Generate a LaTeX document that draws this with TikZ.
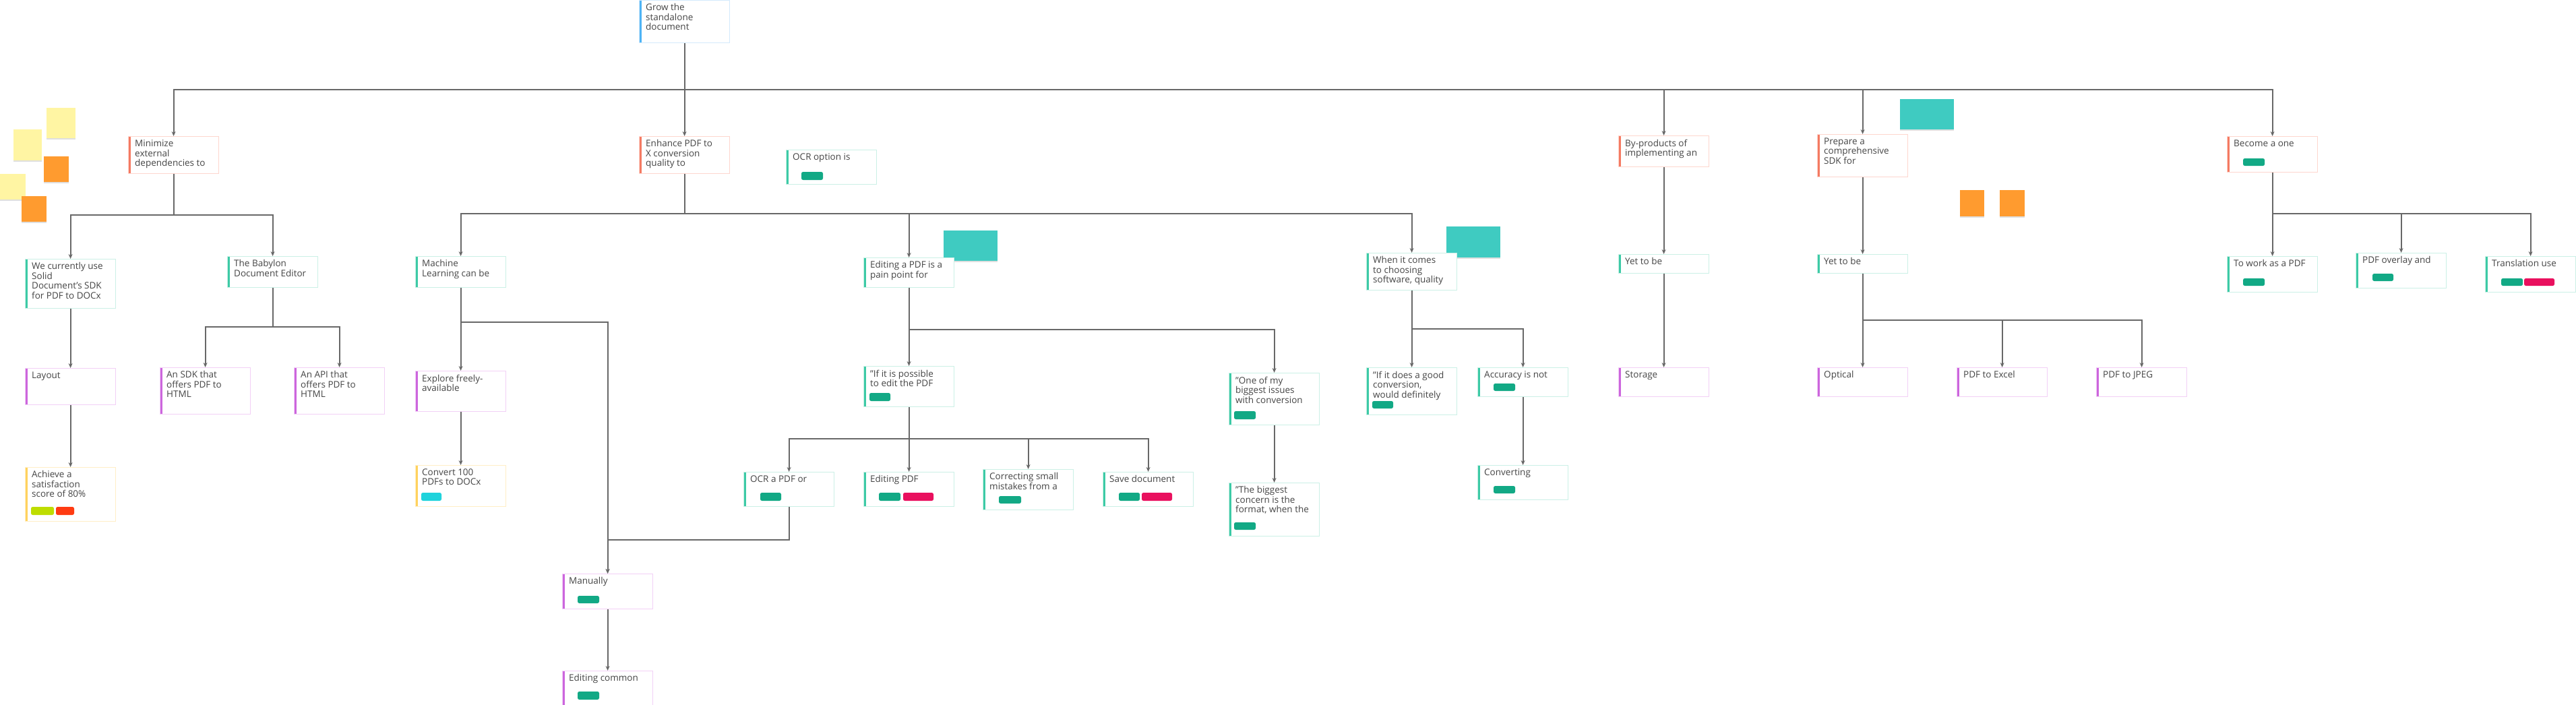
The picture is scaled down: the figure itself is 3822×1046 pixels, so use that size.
\documentclass[tikz,border=0pt]{standalone}
\usepackage{fontspec}
\setmainfont{Open Sans}
\usetikzlibrary{arrows.meta,shadows}
\definecolor{txt}{HTML}{454545}
\definecolor{cblue}{HTML}{4DB3F5}
\definecolor{cblueL}{HTML}{D3EAFC}
\definecolor{csal}{HTML}{F47A62}
\definecolor{csalL}{HTML}{FDD6CE}
\definecolor{cteal}{HTML}{3DCAA6}
\definecolor{ctealL}{HTML}{CBF0E6}
\definecolor{cpur}{HTML}{CC66DD}
\definecolor{cpurL}{HTML}{F2D0F6}
\definecolor{cyel}{HTML}{FFD25E}
\definecolor{cyelL}{HTML}{FFEEC6}
\definecolor{tgreen}{HTML}{12A985}
\definecolor{tpink}{HTML}{E9105E}
\definecolor{tlime}{HTML}{BEDD00}
\definecolor{tred}{HTML}{FF3B12}
\definecolor{tcyan}{HTML}{1FD3DC}
\definecolor{lin}{HTML}{686868}
\definecolor{stY}{HTML}{FFF5A3}
\definecolor{stO}{HTML}{FF9B2F}
\definecolor{stT}{HTML}{3FCBC1}
\tikzset{
  cardbox/.style 2 args={rectangle, draw=#2, line width=1.2pt, fill=white, inner sep=0pt,
    anchor=north west, minimum width=134pt,
    path picture={\fill[#1] (path picture bounding box.north west) rectangle
      ([xshift=3.5pt]path picture bounding box.south west);}},
  cardtxt/.style={anchor=north west, inner sep=0pt, align=left,
    font=\fontsize{13.5}{14.5}\selectfont, text=txt},
  conn/.style={draw=lin, line width=2pt},
  arr/.style={conn, -{Stealth[length=7pt,width=6pt]}},
  sticky/.style={rectangle, fill=#1, inner sep=0pt, anchor=north west,
    drop shadow={shadow xshift=0pt, shadow yshift=-2pt, opacity=0.25}},
}
\newcommand\card[7]{%
  \node[cardbox={#2}{#3}, minimum height=#6pt] (#1) at (#4,#5) {};
  \node[cardtxt] (#1-t) at ([xshift=10pt,yshift=-5.5pt]#1.north west) {#7};}
\newcommand\tg[5]{\fill[#1, rounded corners=2.5pt] (#2,#3) rectangle (#4,#5);}
\newcommand\branch[3]{\draw[arr] (#1.south) |- (#3 -| #2.north) -- (#2.north);}
\begin{document}
\begin{tikzpicture}[x=1pt,y=-1pt]
\fill[white] (0,0) rectangle (3822,1046);
\useasboundingbox (0,0) rectangle (3822,1046);

% sticky notes
\node[sticky=stY, minimum width=43pt, minimum height=45pt] (sy1) at (69,160) {};
\node[sticky=stY, minimum width=42pt, minimum height=46pt] (sy2) at (20,192) {};
\node[sticky=stO, minimum width=37pt, minimum height=38pt] (so1) at (65,232) {};
\node[sticky=stY, minimum width=38pt, minimum height=38pt] (sy3) at (0,258) {};
\node[sticky=stO, minimum width=37pt, minimum height=38pt] (so2) at (32,291) {};
\node[sticky=stT, minimum width=80pt, minimum height=45pt] (st1) at (1400,342) {};
\node[sticky=stT, minimum width=80pt, minimum height=46pt] (st2) at (2146,336) {};
\node[sticky=stT, minimum width=80pt, minimum height=45pt] (st3) at (2819,147) {};
\node[sticky=stO, minimum width=36pt, minimum height=39pt] (so3) at (2908,282) {};
\node[sticky=stO, minimum width=37pt, minimum height=39pt] (so4) at (2967,282) {};

% cards
\card{root}{cblue}{cblueL}{948}{0}{63}{Grow the\\standalone\\document}
\card{minimize}{csal}{csalL}{190}{202}{55}{Minimize\\external\\dependencies to}
\card{enhance}{csal}{csalL}{948}{202}{55}{Enhance PDF to\\X conversion\\quality to}
\card{ocropt}{cteal}{ctealL}{1166}{222}{51}{OCR option is}
\card{byprod}{csal}{csalL}{2401}{201}{46}{By-products of\\implementing an}
\card{prepare}{csal}{csalL}{2696}{199}{63}{Prepare a\\comprehensive\\SDK for}
\card{become}{csal}{csalL}{3304}{202}{53}{Become a one}

\card{wecur}{cteal}{ctealL}{37}{384}{73}{We currently use\\Solid\\Document's SDK\\for PDF to DOCx}
\card{babylon}{cteal}{ctealL}{337}{380}{46}{The Babylon\\Document Editor}
\card{layout}{cpur}{cpurL}{37}{546}{54}{Layout}
\card{achieve}{cyel}{cyelL}{37}{693}{80}{Achieve a\\satisfaction\\score of 80\%}
\card{sdkhtml}{cpur}{cpurL}{237}{545}{69}{An SDK that\\offers PDF to\\HTML}
\card{apihtml}{cpur}{cpurL}{436}{545}{69}{An API that\\offers PDF to\\HTML}

\card{machine}{cteal}{ctealL}{616}{380}{46}{Machine\\Learning can be}
\card{explore}{cpur}{cpurL}{616}{550}{60}{Explore freely-\\available}
\card{convert}{cyel}{cyelL}{616}{690}{61}{Convert 100\\PDFs to DOCx}
\card{manually}{cpur}{cpurL}{834}{851}{52}{Manually}
\card{editcommon}{cpur}{cpurL}{834}{995}{51}{Editing common}

\card{editpain}{cteal}{ctealL}{1281}{382}{44}{Editing a PDF is a\\pain point for}
\card{ifpossible}{cteal}{ctealL}{1281}{543}{60}{"If it is possible\\to edit the PDF}
\card{ocrpdf}{cteal}{ctealL}{1103}{700}{51}{OCR a PDF or}
\card{editingpdf}{cteal}{ctealL}{1281}{700}{51}{Editing PDF}
\card{correcting}{cteal}{ctealL}{1458}{696}{60}{Correcting small\\mistakes from a}
\card{save}{cteal}{ctealL}{1636}{700}{51}{Save document}
\card{oneof}{cteal}{ctealL}{1823}{553}{77}{"One of my\\biggest issues\\with conversion}
\card{biggest}{cteal}{ctealL}{1823}{716}{79}{"The biggest\\concern is the\\format, when the}

\card{whenit}{cteal}{ctealL}{2027}{375}{55}{When it comes\\to choosing\\software, quality}
\card{ifdoes}{cteal}{ctealL}{2027}{545}{70}{"If it does a good\\conversion,\\would definitely}
\card{accuracy}{cteal}{ctealL}{2192}{545}{43}{Accuracy is not}
\card{converting}{cteal}{ctealL}{2192}{690}{51}{Converting}

\card{yet1}{cteal}{ctealL}{2401}{377}{28}{Yet to be}
\card{storage}{cpur}{cpurL}{2401}{545}{43}{Storage}
\card{yet2}{cteal}{ctealL}{2696}{377}{28}{Yet to be}
\card{optical}{cpur}{cpurL}{2696}{545}{43}{Optical}
\card{excel}{cpur}{cpurL}{2903}{545}{43}{PDF to Excel}
\card{jpeg}{cpur}{cpurL}{3110}{545}{43}{PDF to JPEG}

\card{towork}{cteal}{ctealL}{3304}{380}{53}{To work as a PDF}
\card{overlay}{cteal}{ctealL}{3495}{375}{52}{PDF overlay and}
\card{translation}{cteal}{ctealL}{3687}{380}{53}{Translation use}

% tags
\tg{tgreen}{1189}{255}{1221}{267}
\tg{tgreen}{3328}{235}{3360}{246}
\tg{tlime}{46}{752}{80}{764}
\tg{tred}{83}{752}{110}{764}
\tg{tcyan}{625}{731}{655}{743}
\tg{tgreen}{857}{884}{889}{895}
\tg{tgreen}{857}{1026}{889}{1038}
\tg{tgreen}{1290}{583}{1321}{595}
\tg{tgreen}{1128}{731}{1159}{743}
\tg{tgreen}{1304}{731}{1336}{743}
\tg{tpink}{1340}{731}{1385}{743}
\tg{tgreen}{1482}{736}{1515}{747}
\tg{tgreen}{1660}{731}{1691}{743}
\tg{tpink}{1694}{731}{1739}{743}
\tg{tgreen}{1831}{610}{1863}{622}
\tg{tgreen}{1831}{775}{1863}{786}
\tg{tgreen}{2036}{595}{2067}{606}
\tg{tgreen}{2216}{569}{2248}{580}
\tg{tgreen}{2216}{721}{2248}{732}
\tg{tgreen}{3328}{413}{3360}{424}
\tg{tgreen}{3520}{406}{3551}{417}
\tg{tgreen}{3711}{413}{3743}{424}
\tg{tpink}{3745}{413}{3790}{424}

% bus levels
\coordinate (b133) at (0,133);
\coordinate (b319) at (0,319);
\coordinate (b485) at (0,485);
\coordinate (b317) at (0,317);
\coordinate (b478) at (0,478);
\coordinate (b489) at (0,489);
\coordinate (b651) at (0,651);
\coordinate (b801) at (0,801);
\coordinate (b488) at (0,488);
\coordinate (b475) at (0,475);

% connectors
\draw[arr] (root.south) -- (enhance.north);
\branch{root}{minimize}{b133}
\branch{root}{byprod}{b133}
\branch{root}{prepare}{b133}
\branch{root}{become}{b133}

\branch{minimize}{wecur}{b319}
\branch{minimize}{babylon}{b319}
\draw[arr] (wecur.south) -- (layout.north);
\draw[arr] (layout.south) -- (achieve.north);
\branch{babylon}{sdkhtml}{b485}
\branch{babylon}{apihtml}{b485}

\branch{enhance}{machine}{b317}
\branch{enhance}{editpain}{b317}
\branch{enhance}{whenit}{b317}
\branch{machine}{explore}{b478}
\branch{machine}{manually}{b478}
\draw[arr] (explore.south) -- (convert.north);
\draw[arr] (manually.south) -- (editcommon.north);

\branch{editpain}{ifpossible}{b489}
\branch{editpain}{oneof}{b489}
\draw[arr] (oneof.south) -- (biggest.north);
\branch{ifpossible}{ocrpdf}{b651}
\branch{ifpossible}{editingpdf}{b651}
\branch{ifpossible}{correcting}{b651}
\branch{ifpossible}{save}{b651}
\branch{ocrpdf}{manually}{b801}

\branch{whenit}{ifdoes}{b488}
\branch{whenit}{accuracy}{b488}
\draw[arr] (accuracy.south) -- (converting.north);

\draw[arr] (byprod.south) -- (yet1.north);
\draw[arr] (yet1.south) -- (storage.north);
\draw[arr] (prepare.south) -- (yet2.north);
\branch{yet2}{optical}{b475}
\branch{yet2}{excel}{b475}
\branch{yet2}{jpeg}{b475}

\branch{become}{towork}{b317}
\branch{become}{overlay}{b317}
\branch{become}{translation}{b317}
\end{tikzpicture}
\end{document}
